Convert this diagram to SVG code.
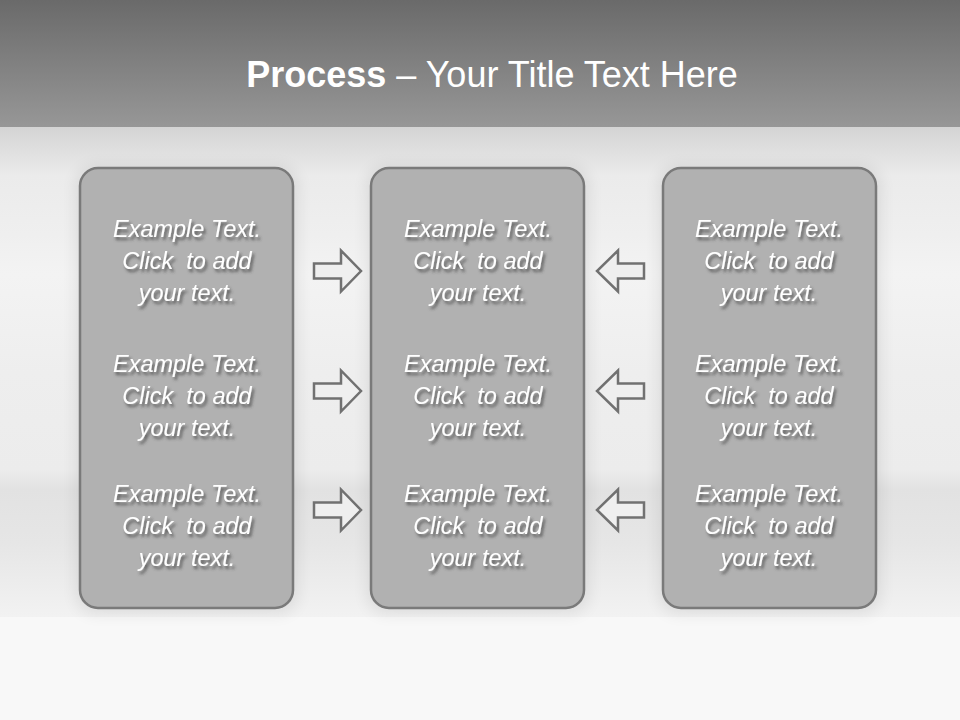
<svg xmlns="http://www.w3.org/2000/svg" width="960" height="720" viewBox="0 0 960 720">
  <defs>
    <linearGradient id="hdr" x1="0" y1="0" x2="0" y2="1">
      <stop offset="0" stop-color="#6a6a6a"/>
      <stop offset="1" stop-color="#979797"/>
    </linearGradient>
    <linearGradient id="mid" x1="0" y1="0" x2="0" y2="1">
      <stop offset="0" stop-color="#d4d4d4"/>
      <stop offset="0.1" stop-color="#ebebeb"/>
      <stop offset="0.22" stop-color="#efefef"/>
      <stop offset="0.3" stop-color="#f3f3f3"/>
      <stop offset="0.5" stop-color="#eeeeee"/>
      <stop offset="0.7" stop-color="#ececec"/>
      <stop offset="0.74" stop-color="#e2e2e2"/>
      <stop offset="0.85" stop-color="#e6e6e6"/>
      <stop offset="1" stop-color="#f2f2f2"/>
    </linearGradient>
    <filter id="tshadow" x="-20%" y="-50%" width="140%" height="200%">
      <feDropShadow dx="2" dy="3" stdDeviation="1.6" flood-color="#3a3a3a" flood-opacity="0.75"/>
    </filter>
    <filter id="bshadow" x="-20%" y="-10%" width="140%" height="120%">
      <feGaussianBlur stdDeviation="8"/>
    </filter>
    <path id="ar" d="M314,-7.5 H341 V-20.5 L361,0 L341,20.5 V7.5 H314 Z"/>
    <path id="al" d="M644,-7.5 H618 V-20.5 L597,0 L618,20.5 V7.5 H644 Z"/>
  </defs>
  <style>
    .box { fill: #b1b1b1; stroke: #7a7a7a; stroke-width: 2.5; }
    .halo { fill: #000; opacity: 0.08; }
    .txt { font-family: "Liberation Sans", Arial, sans-serif; font-style: italic; font-size: 23.5px; fill: #ffffff; text-anchor: middle; white-space: pre; filter: url(#tshadow); }
    .arrow { fill: #efefef; stroke: #717171; stroke-width: 2.5; stroke-linejoin: miter; }
    .title { font-family: "Liberation Sans", Arial, sans-serif; font-size: 36px; fill: #ffffff; text-anchor: middle; }
  </style>

  <!-- background -->
  <rect x="0" y="0" width="960" height="720" fill="#f8f8f8"/>
  <rect x="0" y="127" width="960" height="490" fill="url(#mid)"/>
  <rect x="0" y="0" width="960" height="127" fill="url(#hdr)"/>

  <text class="title" x="492" y="87"><tspan font-weight="bold">Process</tspan> – Your Title Text Here</text>

  <!-- halos -->
  <rect class="halo" x="76" y="166" width="222" height="448" rx="20" filter="url(#bshadow)"/>
  <rect class="halo" x="367" y="166" width="222" height="448" rx="20" filter="url(#bshadow)"/>
  <rect class="halo" x="659" y="166" width="222" height="448" rx="20" filter="url(#bshadow)"/>

  <g id="box-left">
    <rect class="box" x="80" y="168" width="213" height="440" rx="18"/>
    <text class="txt" x="187" y="237">Example Text.</text>
    <text class="txt" x="187" y="269">Click  to add</text>
    <text class="txt" x="187" y="301">your text.</text>
    <text class="txt" x="187" y="372">Example Text.</text>
    <text class="txt" x="187" y="404">Click  to add</text>
    <text class="txt" x="187" y="436">your text.</text>
    <text class="txt" x="187" y="502">Example Text.</text>
    <text class="txt" x="187" y="534">Click  to add</text>
    <text class="txt" x="187" y="566">your text.</text>
  </g>

  <g id="box-middle">
    <rect class="box" x="371" y="168" width="213" height="440" rx="18"/>
    <text class="txt" x="478" y="237">Example Text.</text>
    <text class="txt" x="478" y="269">Click  to add</text>
    <text class="txt" x="478" y="301">your text.</text>
    <text class="txt" x="478" y="372">Example Text.</text>
    <text class="txt" x="478" y="404">Click  to add</text>
    <text class="txt" x="478" y="436">your text.</text>
    <text class="txt" x="478" y="502">Example Text.</text>
    <text class="txt" x="478" y="534">Click  to add</text>
    <text class="txt" x="478" y="566">your text.</text>
  </g>

  <g id="box-right">
    <rect class="box" x="663" y="168" width="213" height="440" rx="18"/>
    <text class="txt" x="769" y="237">Example Text.</text>
    <text class="txt" x="769" y="269">Click  to add</text>
    <text class="txt" x="769" y="301">your text.</text>
    <text class="txt" x="769" y="372">Example Text.</text>
    <text class="txt" x="769" y="404">Click  to add</text>
    <text class="txt" x="769" y="436">your text.</text>
    <text class="txt" x="769" y="502">Example Text.</text>
    <text class="txt" x="769" y="534">Click  to add</text>
    <text class="txt" x="769" y="566">your text.</text>
  </g>

  <g id="connectors">
    <use href="#ar" class="arrow" transform="translate(0,271)"/>
    <use href="#ar" class="arrow" transform="translate(0,391)"/>
    <use href="#ar" class="arrow" transform="translate(0,510)"/>
    <use href="#al" class="arrow" transform="translate(0,271)"/>
    <use href="#al" class="arrow" transform="translate(0,391)"/>
    <use href="#al" class="arrow" transform="translate(0,510)"/>
  </g>
</svg>
